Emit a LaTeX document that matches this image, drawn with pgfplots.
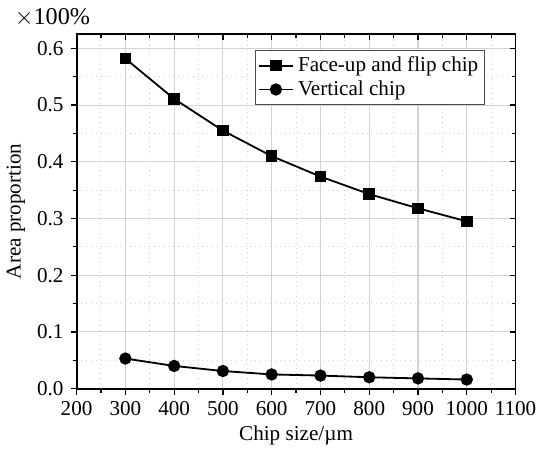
\documentclass[border=0pt]{standalone}
\usepackage{pgfplots}
\pgfplotsset{compat=1.18}
\usepackage{fontspec}
\setmainfont{Liberation Serif}
\begin{document}
\begin{tikzpicture}[font=\fontsize{10.5}{12}\selectfont]
\pgfplotsset{
  common/.style={
    width=218pt, height=176pt, scale only axis,
    xmin=200, xmax=1100, ymin=0, ymax=0.625,
    xtick={200,300,...,1100}, ytick={0,0.1,...,0.6},
    minor x tick num=1, minor y tick num=1,
    major tick length=3pt, minor tick length=2pt,
    every tick/.style={black, line width=0.6pt},
  }
}
\begin{axis}[common, name=ax,
  axis line style={line width=0.9pt},
  tick align=outside,
  xtick pos=bottom, ytick pos=left,
  grid=both,
  major grid style={gray!35, line width=0.5pt},
  minor grid style={gray!35, dotted, line width=0.5pt},
  yticklabel style={/pgf/number format/.cd, fixed, fixed zerofill, precision=1},
  xticklabel style={/pgf/number format/.cd, 1000 sep={}},
  /pgf/number format/assume math mode=true,
  scaled y ticks=false,
  xlabel={Chip size/\textmu m},
  ylabel={Area proportion},
  xlabel style={yshift=2pt},
  ylabel style={yshift=-1pt},
  legend style={at={(rel axis cs:0.93,0.955)}, anchor=north east, draw=black!70, line width=0.5pt, inner sep=1pt, row sep=-1pt, font=\fontsize{10.5}{11}\selectfont},
  legend cell align=left,
]
\addplot[black, line width=0.9pt, mark=square*, mark size=2.4pt] coordinates {
(300,0.582) (400,0.511) (500,0.455) (600,0.410) (700,0.374) (800,0.343) (900,0.318) (1000,0.295)};
\addlegendentry{Face-up and flip chip}
\addplot[black, line width=0.9pt, mark=*, mark size=2.6pt] coordinates {
(300,0.053) (400,0.040) (500,0.031) (600,0.025) (700,0.023) (800,0.020) (900,0.018) (1000,0.016)};
\addlegendentry{Vertical chip}
\end{axis}
\begin{axis}[common,
  axis line style={line width=0.9pt},
  tick align=inside,
  xtick pos=top, ytick pos=right,
  xticklabels={}, yticklabels={},
]
\end{axis}
\node[anchor=south, inner sep=0pt, font=\fontsize{12}{13}\selectfont] at ([xshift=-12pt,yshift=3.5pt]ax.north west) {$\times$100\%};
\path ([yshift=17pt]ax.north west) -- ([yshift=17pt]ax.north east);
\end{tikzpicture}
\end{document}
